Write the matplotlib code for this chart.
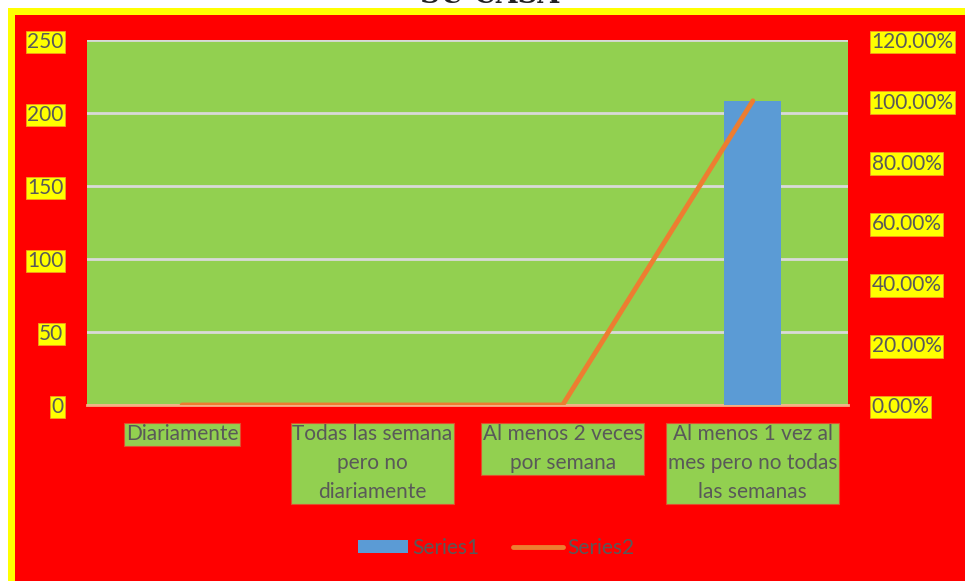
import matplotlib
matplotlib.use("Agg")
import matplotlib.pyplot as plt
from matplotlib.patches import Rectangle
from matplotlib.lines import Line2D
from matplotlib.ticker import FuncFormatter

categories = ["Diariamente", "Todas las semana\npero no\ndiariamente",
              "Al menos 2 veces\npor semana", "Al menos 1 vez al\nmes pero no todas\nlas semanas"]
series1 = [0, 0, 0, 208]
series2 = [0.0, 0.0, 0.0, 1.0]
left_ticks = [0, 50, 100, 150, 200, 250]
right_ticks = [0.0, 0.2, 0.4, 0.6, 0.8, 1.0, 1.2]

FONT = "Lato"
TXT = "#595959"
RED = "#FF0000"
YEL = "#FFFF00"
GRN = "#92D050"
BLUE = "#5B9BD5"
ORANGE = "#ED7D31"

W, H = 965, 581
fig = plt.figure(figsize=(W / 100, H / 100), dpi=100)
fig.patch.set_facecolor("white")

# frame: yellow border around red chart area
fig.patches.append(Rectangle((8 / W, -0.1), 1.1, (H - 8) / H + 0.1, transform=fig.transFigure,
                             facecolor=YEL, edgecolor="none", zorder=0))
fig.patches.append(Rectangle((15 / W, -0.1), 1.1, (H - 15) / H + 0.1, transform=fig.transFigure,
                             facecolor=RED, edgecolor="none", zorder=0))

# title, running off the top of the canvas
fig.text(490 / W, 1 - 3 / H, "SU CASA", ha="center", va="baseline", fontsize=20,
         fontweight="bold", family="DejaVu Serif", color="#222222", zorder=-1)

x0, x1, y0, y1 = 87, 848, 40, 405
ax = fig.add_axes([x0 / W, 1 - y1 / H, (x1 - x0) / W, (y1 - y0) / H])
ax.set_facecolor(GRN)
ax.set_zorder(1)
xs = list(range(len(categories)))
ax.bar(xs, series1, width=0.3, color=BLUE, zorder=3)
ax.set_xlim(-0.5, len(categories) - 0.5)
ax.set_ylim(0, 250)
ax.set_yticks(left_ticks)
ax.yaxis.grid(True, color="#D9D9D9", linewidth=2, zorder=1)
ax.set_axisbelow(True)
for s in ["top", "right", "left"]:
    ax.spines[s].set_visible(False)
ax.spines["bottom"].set_color("#F4B183")
ax.spines["bottom"].set_linewidth(2)
ax.tick_params(axis="both", length=0)
ax.set_xticks(xs)
ax.set_xticklabels(categories, fontsize=15, family=FONT, color=TXT, linespacing=1.55, va="top")
for lab in ax.get_xticklabels():
    lab.set_bbox(dict(facecolor=GRN, edgecolor="#E05030", linewidth=0.8, pad=1.2))
ax.tick_params(axis="x", pad=14)
ax.set_yticklabels([str(v) for v in left_ticks], fontsize=15, family=FONT, color=TXT)
for lab in ax.get_yticklabels():
    lab.set_bbox(dict(facecolor=YEL, edgecolor="#F0A020", linewidth=0.6, pad=1.0))
ax.tick_params(axis="y", pad=17)

ax2 = ax.twinx()
ax2.plot(xs, series2, color=ORANGE, linewidth=3.5, solid_capstyle="round", zorder=4)
ax2.set_ylim(0, 1.2)
ax2.set_yticks(right_ticks)
ax2.yaxis.set_major_formatter(FuncFormatter(lambda v, p: f"{v * 100:.2f}%"))
for s in ["top", "right", "left", "bottom"]:
    ax2.spines[s].set_visible(False)
ax2.tick_params(axis="y", length=0, pad=17, labelsize=15, labelcolor=TXT)
for lab in ax2.get_yticklabels():
    lab.set_family(FONT)
    lab.set_bbox(dict(facecolor=YEL, edgecolor="#F0A020", linewidth=0.6, pad=1.0))

handles = [Rectangle((0, 0), 1, 1, facecolor=BLUE, edgecolor="none"),
           Line2D([0], [0], color=ORANGE, linewidth=3.5, solid_capstyle="round")]
leg = fig.legend(handles, ["Series1", "Series2"], loc="center", bbox_to_anchor=(496 / W, 1 - 548 / H),
                 ncol=2, frameon=False, prop={"family": FONT, "size": 15}, handlelength=2.4,
                 handleheight=0.6, columnspacing=1.6, handletextpad=0.2)
for t in leg.get_texts():
    t.set_color(TXT)

fig.savefig("out.png", dpi=100, facecolor=fig.get_facecolor())
